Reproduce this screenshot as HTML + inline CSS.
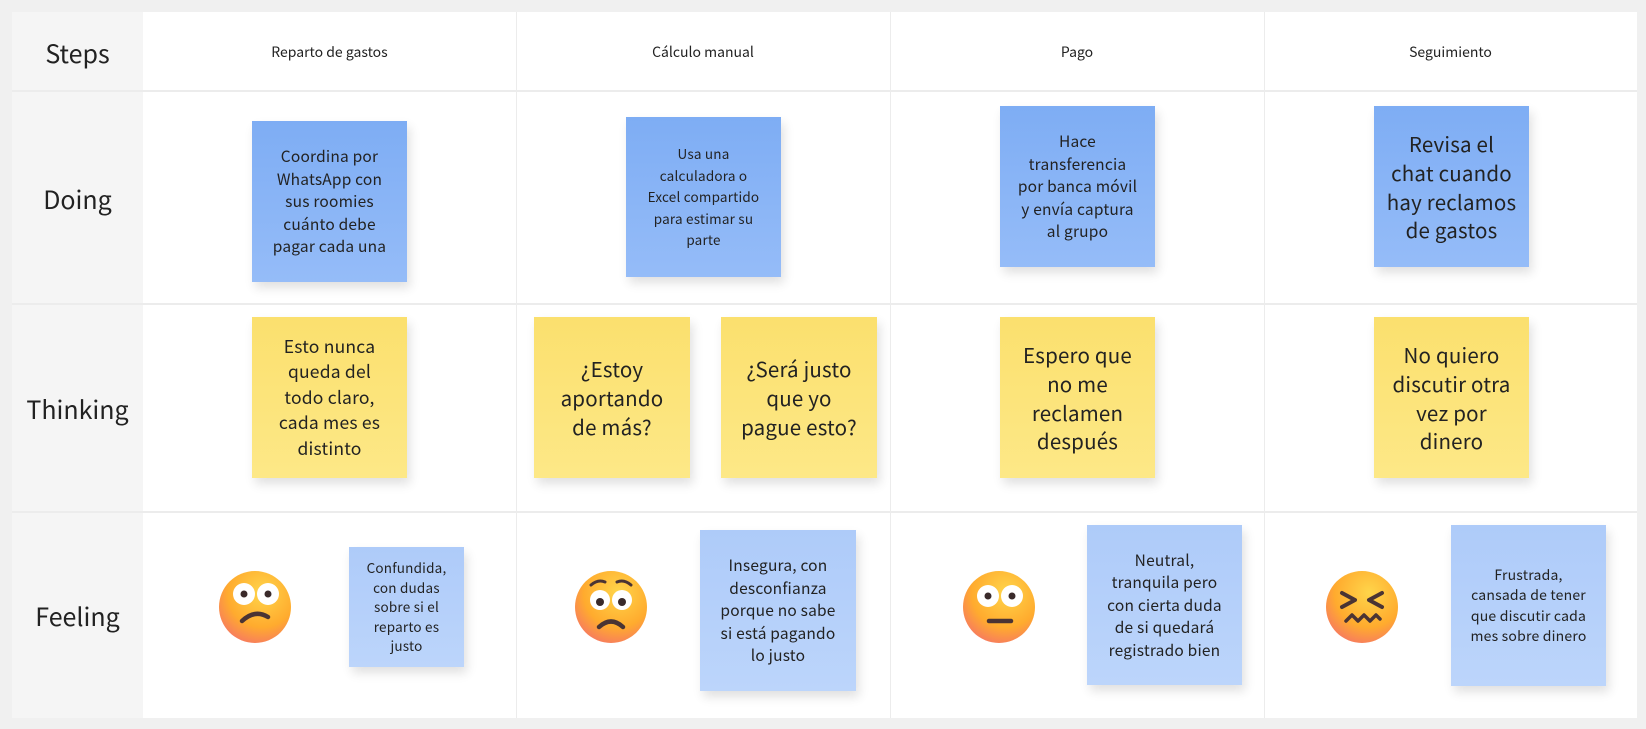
<!DOCTYPE html>
<html><head><meta charset="utf-8"><style>
body{margin:0;width:1646px;height:729px;background:#f0f0f0;position:relative;overflow:hidden;font-family:"Noto Sans CJK JP","Liberation Sans",sans-serif;color:#222}
.cell{position:absolute;background:#fff;box-sizing:border-box}
.hd{position:absolute;background:#f5f5f5}
.lbl{position:absolute;left:12px;width:131px;text-align:center;font-size:25px;color:#222}
.st{position:absolute;font-size:14px;text-align:center}
.n{position:absolute;display:flex;align-items:center;justify-content:center;text-align:center;box-sizing:border-box;padding:6px 4px;line-height:1.45;box-shadow:3px 6px 10px rgba(0,0,0,.12);color:#222;white-space:nowrap;letter-spacing:0.2px}
.b{background:linear-gradient(#7eadf4,#95bcf8)}
.lb{background:linear-gradient(#aecbf9,#bcd5fb)}
.y{background:linear-gradient(#fbe06e,#fde887)}
.lines div{position:absolute;background:#ececec}
</style></head><body>
<div class="hd" style="left:12px;top:12px;width:131px;height:706px"></div>
<div class="cell" style="left:143px;top:12px;width:1494px;height:706px"></div>
<div class="lines">
<div style="left:12px;top:90px;width:1625px;height:2px"></div>
<div style="left:12px;top:303px;width:1625px;height:2px"></div>
<div style="left:12px;top:511px;width:1625px;height:2px"></div>
<div style="left:516px;top:12px;width:1px;height:706px"></div>
<div style="left:890px;top:12px;width:1px;height:706px"></div>
<div style="left:1264px;top:12px;width:1px;height:706px"></div>
</div>
<div class="lbl" style="top:35px">Steps</div>
<div class="lbl" style="top:181px">Doing</div>
<div class="lbl" style="top:391px">Thinking</div>
<div class="lbl" style="top:598px">Feeling</div>
<div class="st" style="left:143px;width:373px;top:42px">Reparto de gastos</div>
<div class="st" style="left:516px;width:374px;top:42px">Cálculo manual</div>
<div class="st" style="left:890px;width:374px;top:42px">Pago</div>
<div class="st" style="left:1264px;width:373px;top:42px">Seguimiento</div>

<div class="n b" style="left:252px;top:121px;width:155px;height:161px;font-size:15.5px">Coordina por<br>WhatsApp con<br>sus roomies<br>cuánto debe<br>pagar cada una</div>
<div class="n b" style="left:626px;top:117px;width:155px;height:160px;font-size:13.5px;line-height:1.6">Usa una<br>calculadora o<br>Excel compartido<br>para estimar su<br>parte</div>
<div class="n b" style="left:1000px;top:106px;width:155px;height:161px;font-size:15.5px">Hace<br>transferencia<br>por banca móvil<br>y envía captura<br>al grupo</div>
<div class="n b" style="left:1374px;top:106px;width:155px;height:161px;font-size:20.5px;line-height:1.4">Revisa el<br>chat cuando<br>hay reclamos<br>de gastos</div>

<div class="n y" style="left:252px;top:317px;width:155px;height:161px;font-size:17.5px">Esto nunca<br>queda del<br>todo claro,<br>cada mes es<br>distinto</div>
<div class="n y" style="left:534px;top:317px;width:156px;height:161px;font-size:20.5px;line-height:1.4">¿Estoy<br>aportando<br>de más?</div>
<div class="n y" style="left:721px;top:317px;width:156px;height:161px;font-size:20.5px;line-height:1.4">¿Será justo<br>que yo<br>pague esto?</div>
<div class="n y" style="left:1000px;top:317px;width:155px;height:161px;font-size:20.5px;line-height:1.4">Espero que<br>no me<br>reclamen<br>después</div>
<div class="n y" style="left:1374px;top:317px;width:155px;height:161px;font-size:20.5px;line-height:1.4">No quiero<br>discutir otra<br>vez por<br>dinero</div>

<div class="n lb" style="left:349px;top:547px;width:115px;height:120px;font-size:13.5px">Confundida,<br>con dudas<br>sobre si el<br>reparto es<br>justo</div>
<div class="n lb" style="left:700px;top:530px;width:156px;height:161px;font-size:15.5px">Insegura, con<br>desconfianza<br>porque no sabe<br>si está pagando<br>lo justo</div>
<div class="n lb" style="left:1087px;top:525px;width:155px;height:160px;font-size:15.5px">Neutral,<br>tranquila pero<br>con cierta duda<br>de si quedará<br>registrado bien</div>
<div class="n lb" style="left:1451px;top:525px;width:155px;height:161px;font-size:14px">Frustrada,<br>cansada de tener<br>que discutir cada<br>mes sobre dinero</div>

<svg width="1646" height="729" style="position:absolute;left:0;top:0">
<defs><radialGradient id="g" cx="0.6" cy="0.3" r="0.8"><stop offset="0" stop-color="#ffd54a"/><stop offset="0.6" stop-color="#ffab2e"/><stop offset="1" stop-color="#f5706a"/></radialGradient></defs>
<g transform="translate(255,607)">
<circle r="36" fill="url(#g)"/><circle cx="-11" cy="-13" r="11" fill="#fff"/><circle cx="13" cy="-13" r="11" fill="#fff"/><circle cx="-11" cy="-13" r="3.5" fill="#3a2a2a"/><circle cx="13" cy="-13" r="3.5" fill="#3a2a2a"/>
<path d="M-13 14 Q0 2 13 10" stroke="#4a3434" stroke-width="4.5" fill="none" stroke-linecap="round"/></g>
<g transform="translate(611,607)">
<circle r="36" fill="url(#g)"/><path d="M-20 -22 Q-13 -28 -6 -25 M6 -25 Q13 -28 20 -22" stroke="#4a3434" stroke-width="3" fill="none" stroke-linecap="round"/><circle cx="-11" cy="-7" r="10" fill="#fff"/><circle cx="11" cy="-7" r="10" fill="#fff"/><circle cx="-11" cy="-5" r="4" fill="#3a2a2a"/><circle cx="11" cy="-5" r="4" fill="#3a2a2a"/>
<path d="M-12 20 Q0 9 12 20" stroke="#4a3434" stroke-width="4.5" fill="none" stroke-linecap="round"/></g>
<g transform="translate(999,607)">
<circle r="36" fill="url(#g)"/><circle cx="-11" cy="-11" r="11" fill="#fff"/><circle cx="13" cy="-11" r="11" fill="#fff"/><circle cx="-11" cy="-11" r="3.5" fill="#3a2a2a"/><circle cx="13" cy="-11" r="3.5" fill="#3a2a2a"/>
<path d="M-10 14 L12 14" stroke="#4a3434" stroke-width="4.5" stroke-linecap="round"/></g>
<g transform="translate(1362,607)">
<circle r="36" fill="url(#g)"/><path d="M-20 -14 L-7 -7 L-20 0 M20 -14 L7 -7 L20 0" stroke="#4a3434" stroke-width="4" fill="none" stroke-linecap="round" stroke-linejoin="round"/>
<path d="M-16 14 L-10 8 L-4 14 L2 8 L8 14 L14 8 L18 12" stroke="#4a3434" stroke-width="3.5" fill="none" stroke-linecap="round" stroke-linejoin="round"/></g>
</svg>
</body></html>
